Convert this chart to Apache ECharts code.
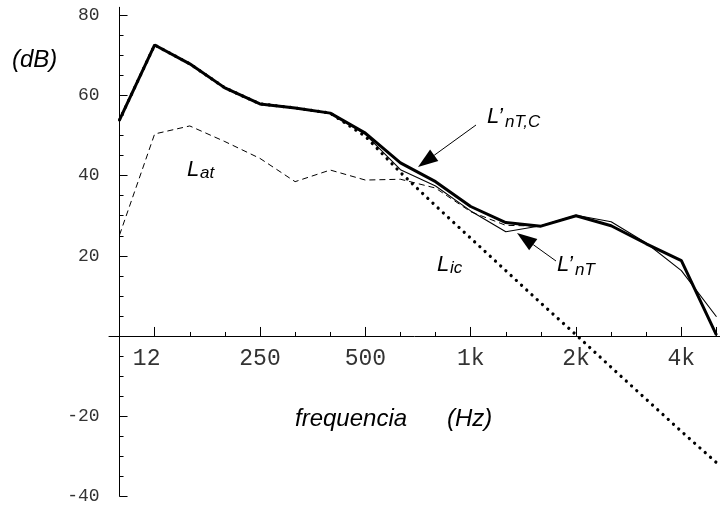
<!DOCTYPE html>
<html>
<head>
<meta charset="utf-8">
<script src="https://cdn.jsdelivr.net/npm/echarts@6/dist/echarts.min.js"></script>
<style>
  html, body { margin: 0; padding: 0; background: #fff; }
  #chart { width: 720px; height: 506px; }
</style>
</head>
<body>
<div id="chart"></div>
<script>
// third octave bands, 100 Hz .. 5 kHz (x = band index)
const bands = ['100', '125', '160', '200', '250', '315', '400', '500', '630', '800',
  '1k', '1.25k', '1.6k', '2k', '2.5k', '3.15k', '4k', '5k'];
const labelBands = [1, 4, 7, 10, 13, 16];
const labelTexts = ['12', '250', '500', '1k', '2k', '4k'];
const majorTickBands = [0, 1, 4, 7, 10, 13, 16, 17];
const minorTickBands = [2, 3, 5, 6, 8, 9, 11, 12, 14, 15];

const yMajorTicks = [-40, -20, 0, 20, 40, 60, 80];
const yLabels = [-40, -20, 20, 40, 60, 80];
const yMinorTicks = [-35, -30, -25, -15, -10, -5, 5, 10, 15, 25, 30, 35, 45, 50, 55, 65, 70, 75];

// levels in dB
const lnTC = [53.9, 72.6, 67.9, 61.9, 57.9, 56.9, 55.6, 50.6, 43.2, 38.5, 32.3, 28.3, 27.4, 30.0, 27.5, 23.0, 18.8, 0.2];
const lnT  = [53.9, 72.6, 67.9, 61.9, 57.9, 56.9, 55.6, 50.3, 41.5, 37.4, 31.2, 26.0, 27.5, 30.1, 28.5, 23.2, 16.3, 4.8];
const lAt  = [25.2, 50.4, 52.4, 48.5, 44.3, 38.5, 41.4, 38.9, 39.1, 36.9, 31.0, 27.6, 27.4, 29.9, 27.4, 23.0, 18.7, 0.2];
const lIc  = [53.9, 72.6, 67.9, 61.9, 57.9, 56.9, 55.6, 49.8, 40.8, 32.5, 24.4, 16.3, 8.2, 0.3, -7.8, -15.8, -23.8, -31.6];

const pts = arr => arr.map((v, i) => [i, v]);

const sans = 'Liberation Sans, Arial, sans-serif';
const mono = 'Liberation Mono, Courier New, monospace';

// axes cross at 0 dB / 100 Hz, moved in from the grid edges
const xMin = -0.3, xMax = 17.1, yMin = -40, yMax = 82;
const gridL = 109, gridR = 0, gridT = 7.3, gridB = 9.7;
const plotW = 720 - gridL - gridR, plotH = 506 - gridT - gridB;
const xOff = -plotH * (0 - yMin) / (yMax - yMin);
const yOff = -plotW * (0 - xMin) / (xMax - xMin);

function txt(x, baseline, s, size) {
  return {
    type: 'text', x: x, y: baseline - 0.35 * size,
    style: { text: s, fontFamily: sans, fontStyle: 'italic', fontSize: size, fill: '#000', verticalAlign: 'middle' }
  };
}
function sym(x, baseline, main, sub, subX, subBase) {
  return [txt(x, baseline, main, 22), txt(subX, subBase, sub, 17)];
}
function arrow(x1, y1, x2, y2) {
  const dx = x2 - x1, dy = y2 - y1, len = Math.sqrt(dx * dx + dy * dy);
  const ux = dx / len, uy = dy / len, hl = 20, hw = 7;
  const bx = x2 - ux * hl, by = y2 - uy * hl;
  return [
    { type: 'line', shape: { x1: x1, y1: y1, x2: bx, y2: by }, style: { stroke: '#000', lineWidth: 1 } },
    { type: 'polygon', shape: { points: [[x2, y2], [bx - uy * hw, by + ux * hw], [bx + uy * hw, by - ux * hw]] }, style: { fill: '#000' } }
  ];
}

const chart = echarts.init(document.getElementById('chart'));
chart.setOption({
  animation: false,
  backgroundColor: '#fff',
  grid: { left: gridL, right: gridR, top: gridT, bottom: gridB },
  xAxis: [{
    type: 'value', min: xMin, max: xMax, position: 'bottom', offset: xOff,
    axisLine: { onZero: false, lineStyle: { color: '#000', width: 1 } },
    splitLine: { show: false },
    axisTick: { inside: true, length: 9, customValues: majorTickBands, lineStyle: { color: '#000' } },
    axisLabel: {
      customValues: labelBands, margin: 11, color: '#333', fontFamily: mono, fontSize: 23,
      formatter: v => {
        const t = labelTexts[labelBands.indexOf(Math.round(v))] || '';
        return Math.round(v) === 1 ? '{a|' + t + '}' : t;
      },
      rich: { a: { fontFamily: mono, fontSize: 23, color: '#333', padding: [0, 16, 0, 0] } }
    }
  }, {
    type: 'value', min: xMin, max: xMax, position: 'bottom', offset: xOff,
    axisLine: { show: false, onZero: false },
    splitLine: { show: false },
    axisTick: { inside: true, length: 4, customValues: minorTickBands, lineStyle: { color: '#000' } },
    axisLabel: { show: false }
  }],
  yAxis: [{
    type: 'value', min: yMin, max: yMax, position: 'left', offset: yOff,
    axisLine: { onZero: false, lineStyle: { color: '#000', width: 1 } },
    splitLine: { show: false },
    axisTick: { inside: true, length: 8, customValues: yMajorTicks, lineStyle: { color: '#000' } },
    axisLabel: { customValues: yLabels, margin: 20, color: '#333', fontFamily: mono, fontSize: 18 }
  }, {
    type: 'value', min: yMin, max: yMax, position: 'left', offset: yOff,
    axisLine: { show: false, onZero: false },
    splitLine: { show: false },
    axisTick: { inside: true, length: 4, customValues: yMinorTicks, lineStyle: { color: '#000' } },
    axisLabel: { show: false }
  }],
  series: [
    { name: 'Lic', type: 'line', data: pts(lIc), symbol: 'none',
      lineStyle: { color: '#000', width: 3.2, type: [0.1, 7], cap: 'round' } },
    { name: 'Lat', type: 'line', data: pts(lAt), symbol: 'none',
      lineStyle: { color: '#000', width: 1, type: [6, 4] } },
    { name: "L'nT", type: 'line', data: pts(lnT), symbol: 'none',
      lineStyle: { color: '#000', width: 1.1 } },
    { name: "L'nT,C", type: 'line', data: pts(lnTC), symbol: 'none',
      lineStyle: { color: '#000', width: 3 } }
  ],
  graphic: [].concat(
    txt(12, 69, '(dB)', 24),
    txt(295, 427.5, 'frequencia', 24),
    txt(447, 427.5, '(Hz)', 24),
    sym(187, 178, 'L', 'at', 200, 179),
    sym(437, 273, 'L', 'ic', 450, 274),
    sym(487, 125, 'L\u2019', 'nT,C', 505, 128),
    sym(557, 273, 'L\u2019', 'nT', 575, 276),
    arrow(476, 125, 418, 167),
    arrow(556, 261, 517, 233)
  )
});
</script>
</body>
</html>
